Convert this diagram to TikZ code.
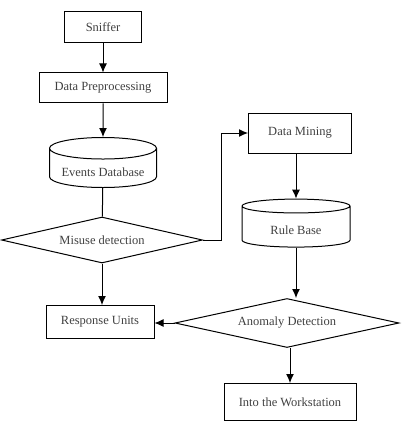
\documentclass[tikz,border=0pt]{standalone}
\usepackage{fontspec}
\setmainfont{Liberation Serif}
\usetikzlibrary{shapes.geometric,arrows.meta}
\tikzset{
  procbox/.style={draw, line width=1pt, rectangle, text=black!75, font=\fontsize{12.5}{14}\selectfont},
  dbcyl/.style={draw, line width=1pt, cylinder, shape border rotate=90, aspect=0.24, text=black!75, font=\fontsize{12.5}{14}\selectfont},
  decide/.style={draw, line width=1pt, diamond, inner sep=0pt, text=black!75, font=\fontsize{12.5}{14}\selectfont},
  flow/.style={line width=1pt, -{Latex[length=9pt,width=8pt]}}
}
\newcommand{\dblabel}[1]{\raisebox{-6pt}[0pt][0pt]{#1}}
\begin{document}
\begin{tikzpicture}[x=1pt,y=-1pt]
      \useasboundingbox (0,0) rectangle (411,433);
      % left column
      \node[procbox, minimum width=77pt, minimum height=31pt] (snif) at (103,27) {Sniffer};
      \node[procbox, minimum width=128pt, minimum height=30pt] (prep) at (103,88) {Data Preprocessing};
      \node[dbcyl, minimum width=107pt, minimum height=50pt] (evdb) at (103,170) {\dblabel{Events Database}};
      \node[decide, aspect=4.4, minimum width=201pt, minimum height=46pt] (misuse) at (102,240) {Misuse detection};
      \node[procbox, minimum width=108pt, minimum height=33pt] (resp) at (100,322) {Response Units};
      % right column
      \node[procbox, minimum width=103pt, minimum height=40pt] (mine) at (300,133) {Data Mining};
      \node[dbcyl, minimum width=108pt, minimum height=48pt] (rule) at (296,228) {\dblabel{Rule Base}};
      \node[decide, aspect=4.6, minimum width=224pt, minimum height=49pt] (anom) at (287,323) {Anomaly Detection};
      \node[procbox, minimum width=132pt, minimum height=37pt] (work) at (290,402) {Into the Workstation};
      % connectors
      \draw[flow] (snif) -- (prep);
      \draw[flow] (prep) -- (evdb);
      \draw[line width=1pt] (evdb) -- (misuse);
      \draw[flow] (misuse.south) -- (misuse.south |- resp.north);
      \draw[flow] (misuse.east) -- ++(18,0) |- (mine.west);
      \draw[flow] (mine.south -| rule.north) -- (rule.north);
      \draw[flow] (rule.south) -- (rule.south |- anom.north);
      \draw[flow] (anom.west) -- (anom.west -| resp.east);
      \draw[flow] (anom.south -| work.north) -- (work.north);
\end{tikzpicture}
\end{document}
